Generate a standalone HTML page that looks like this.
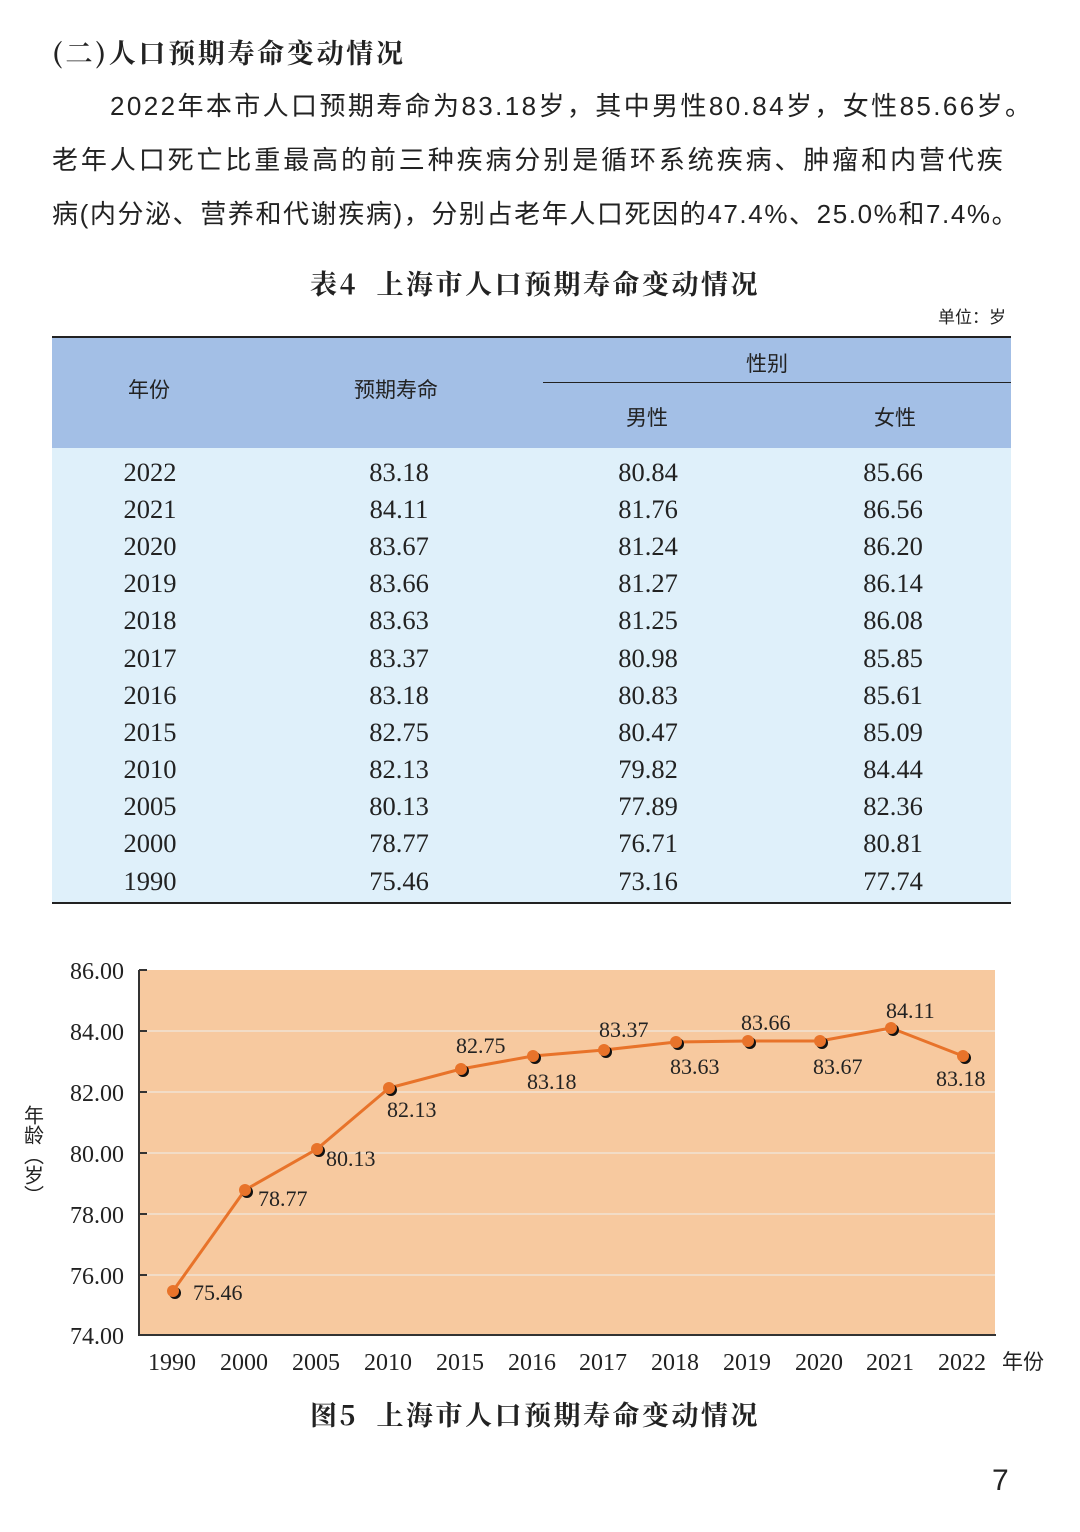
<!DOCTYPE html>
<html><head><meta charset="utf-8"><style>
body{margin:0;width:1080px;height:1532px;background:#fff;position:relative;overflow:hidden;font-family:"Liberation Serif","Noto Serif CJK SC",serif;color:#222}
.a{position:absolute;white-space:nowrap}
.s{font-family:"Liberation Sans","Noto Sans CJK SC",sans-serif}
.r{position:absolute;width:120px;text-align:center;font-size:26.5px}
</style></head><body>
<div class="a" style="left:52px;top:32px;font-size:27px;font-weight:bold;letter-spacing:2.7px;font-family:'Noto Serif CJK SC',serif">(二)人口预期寿命变动情况</div>
<div class="a s" style="left:110px;top:86px;font-size:26px;letter-spacing:2.4px">2022年本市人口预期寿命为83.18岁，其中男性80.84岁，女性85.66岁。</div>
<div class="a s" style="left:52px;top:140px;font-size:26px;letter-spacing:2.9px">老年人口死亡比重最高的前三种疾病分别是循环系统疾病、肿瘤和内营代疾</div>
<div class="a s" style="left:52px;top:194px;font-size:26px;letter-spacing:1.6px">病(内分泌、营养和代谢疾病)，分别占老年人口死因的47.4%、25.0%和7.4%。</div>
<div class="a" style="left:310px;top:263px;font-size:27px;font-weight:bold;letter-spacing:2.5px;font-family:'Noto Serif CJK SC',serif">表4&nbsp; 上海市人口预期寿命变动情况</div>
<div class="a s" style="left:938px;top:303px;font-size:17px">单位：岁</div>
<div class="a" style="left:52px;top:336px;width:959px;height:110px;background:#a3bfe6;border-top:2px solid #222;border-bottom:2px solid #222"></div>
<div class="a" style="left:52px;top:448px;width:959px;height:454px;background:#dff0fa;border-bottom:2px solid #222"></div>
<div class="a" style="left:543px;top:382px;width:468px;height:1px;background:#222"></div>
<div class="a s" style="left:128px;top:374px;font-size:21px">年份</div>
<div class="a s" style="left:354px;top:374px;font-size:21px">预期寿命</div>
<div class="a s" style="left:746px;top:348px;font-size:21px">性别</div>
<div class="a s" style="left:626px;top:402px;font-size:21px">男性</div>
<div class="a s" style="left:874px;top:402px;font-size:21px">女性</div>
<svg class="a" style="left:0;top:940px" width="1080" height="460" viewBox="0 940 1080 460">
<rect x="139" y="970" width="856" height="365" fill="#f7c99f"/>
<g stroke="#f2dcc6" stroke-width="2">
<line x1="139" y1="1031" x2="995" y2="1031"/><line x1="139" y1="1092" x2="995" y2="1092"/><line x1="139" y1="1153" x2="995" y2="1153"/><line x1="139" y1="1214" x2="995" y2="1214"/><line x1="139" y1="1275" x2="995" y2="1275"/></g>
<g stroke="#333" stroke-width="2"><line x1="139" y1="970" x2="139" y2="1336"/><line x1="138" y1="1335" x2="996" y2="1335"/>
<line x1="139" y1="970" x2="147" y2="970"/><line x1="139" y1="1031" x2="147" y2="1031"/><line x1="139" y1="1092" x2="147" y2="1092"/><line x1="139" y1="1153" x2="147" y2="1153"/><line x1="139" y1="1214" x2="147" y2="1214"/><line x1="139" y1="1275" x2="147" y2="1275"/>
</g>
<g font-size="24" fill="#222" text-anchor="end" font-family="Liberation Serif,serif">
<text x="124" y="979">86.00</text><text x="124" y="1040">84.00</text><text x="124" y="1101">82.00</text><text x="124" y="1162">80.00</text><text x="124" y="1223">78.00</text><text x="124" y="1284">76.00</text><text x="124" y="1344">74.00</text></g>
<g font-size="24" fill="#222" text-anchor="middle" font-family="Liberation Serif,serif">
<text x="172" y="1370">1990</text><text x="244" y="1370">2000</text><text x="316" y="1370">2005</text><text x="388" y="1370">2010</text><text x="460" y="1370">2015</text><text x="532" y="1370">2016</text><text x="603" y="1370">2017</text><text x="675" y="1370">2018</text><text x="747" y="1370">2019</text><text x="819" y="1370">2020</text><text x="890" y="1370">2021</text><text x="962" y="1370">2022</text></g>
<text x="1002" y="1369" font-size="21" fill="#222" font-family="Noto Sans CJK SC,sans-serif">年份</text>
<text x="34" y="1105" font-size="20" fill="#222" font-family="Noto Sans CJK SC,sans-serif" style="writing-mode:vertical-rl">年龄（岁）</text>
<polyline fill="none" stroke="#e8732a" stroke-width="3" points="173,1291 245,1190 317,1149 389,1088 461,1069 533,1056 604,1050 676,1042 748,1041 820,1041 891,1028 963,1056"/>
<g fill="#111"><circle cx="175" cy="1293" r="6"/><circle cx="247" cy="1192" r="6"/><circle cx="319" cy="1151" r="6"/><circle cx="391" cy="1090" r="6"/><circle cx="463" cy="1071" r="6"/><circle cx="535" cy="1058" r="6"/><circle cx="606" cy="1052" r="6"/><circle cx="678" cy="1044" r="6"/><circle cx="750" cy="1043" r="6"/><circle cx="822" cy="1043" r="6"/><circle cx="893" cy="1030" r="6"/><circle cx="965" cy="1058" r="6"/></g>
<g fill="#e8732a"><circle cx="173" cy="1291" r="6"/><circle cx="245" cy="1190" r="6"/><circle cx="317" cy="1149" r="6"/><circle cx="389" cy="1088" r="6"/><circle cx="461" cy="1069" r="6"/><circle cx="533" cy="1056" r="6"/><circle cx="604" cy="1050" r="6"/><circle cx="676" cy="1042" r="6"/><circle cx="748" cy="1041" r="6"/><circle cx="820" cy="1041" r="6"/><circle cx="891" cy="1028" r="6"/><circle cx="963" cy="1056" r="6"/></g>
<g font-size="22" fill="#222" font-family="Liberation Serif,serif">
<text x="193" y="1300">75.46</text><text x="258" y="1206">78.77</text><text x="326" y="1166">80.13</text><text x="387" y="1117">82.13</text><text x="456" y="1053">82.75</text><text x="527" y="1089">83.18</text><text x="599" y="1037">83.37</text><text x="670" y="1074">83.63</text><text x="741" y="1030">83.66</text><text x="813" y="1074">83.67</text><text x="886" y="1018">84.11</text><text x="936" y="1086">83.18</text></g>
</svg>
<div class="a" style="left:310px;top:1394px;font-size:27px;font-weight:bold;letter-spacing:2.5px;font-family:'Noto Serif CJK SC',serif">图5&nbsp; 上海市人口预期寿命变动情况</div>
<div class="a s" style="left:992px;top:1464px;font-size:30px">7</div>
<div class="r" style="left:90px;top:457px">2022</div><div class="r" style="left:339px;top:457px">83.18</div><div class="r" style="left:588px;top:457px">80.84</div><div class="r" style="left:833px;top:457px">85.66</div>
<div class="r" style="left:90px;top:494px">2021</div><div class="r" style="left:339px;top:494px">84.11</div><div class="r" style="left:588px;top:494px">81.76</div><div class="r" style="left:833px;top:494px">86.56</div>
<div class="r" style="left:90px;top:531px">2020</div><div class="r" style="left:339px;top:531px">83.67</div><div class="r" style="left:588px;top:531px">81.24</div><div class="r" style="left:833px;top:531px">86.20</div>
<div class="r" style="left:90px;top:568px">2019</div><div class="r" style="left:339px;top:568px">83.66</div><div class="r" style="left:588px;top:568px">81.27</div><div class="r" style="left:833px;top:568px">86.14</div>
<div class="r" style="left:90px;top:605px">2018</div><div class="r" style="left:339px;top:605px">83.63</div><div class="r" style="left:588px;top:605px">81.25</div><div class="r" style="left:833px;top:605px">86.08</div>
<div class="r" style="left:90px;top:643px">2017</div><div class="r" style="left:339px;top:643px">83.37</div><div class="r" style="left:588px;top:643px">80.98</div><div class="r" style="left:833px;top:643px">85.85</div>
<div class="r" style="left:90px;top:680px">2016</div><div class="r" style="left:339px;top:680px">83.18</div><div class="r" style="left:588px;top:680px">80.83</div><div class="r" style="left:833px;top:680px">85.61</div>
<div class="r" style="left:90px;top:717px">2015</div><div class="r" style="left:339px;top:717px">82.75</div><div class="r" style="left:588px;top:717px">80.47</div><div class="r" style="left:833px;top:717px">85.09</div>
<div class="r" style="left:90px;top:754px">2010</div><div class="r" style="left:339px;top:754px">82.13</div><div class="r" style="left:588px;top:754px">79.82</div><div class="r" style="left:833px;top:754px">84.44</div>
<div class="r" style="left:90px;top:791px">2005</div><div class="r" style="left:339px;top:791px">80.13</div><div class="r" style="left:588px;top:791px">77.89</div><div class="r" style="left:833px;top:791px">82.36</div>
<div class="r" style="left:90px;top:828px">2000</div><div class="r" style="left:339px;top:828px">78.77</div><div class="r" style="left:588px;top:828px">76.71</div><div class="r" style="left:833px;top:828px">80.81</div>
<div class="r" style="left:90px;top:866px">1990</div><div class="r" style="left:339px;top:866px">75.46</div><div class="r" style="left:588px;top:866px">73.16</div><div class="r" style="left:833px;top:866px">77.74</div>
</body></html>
